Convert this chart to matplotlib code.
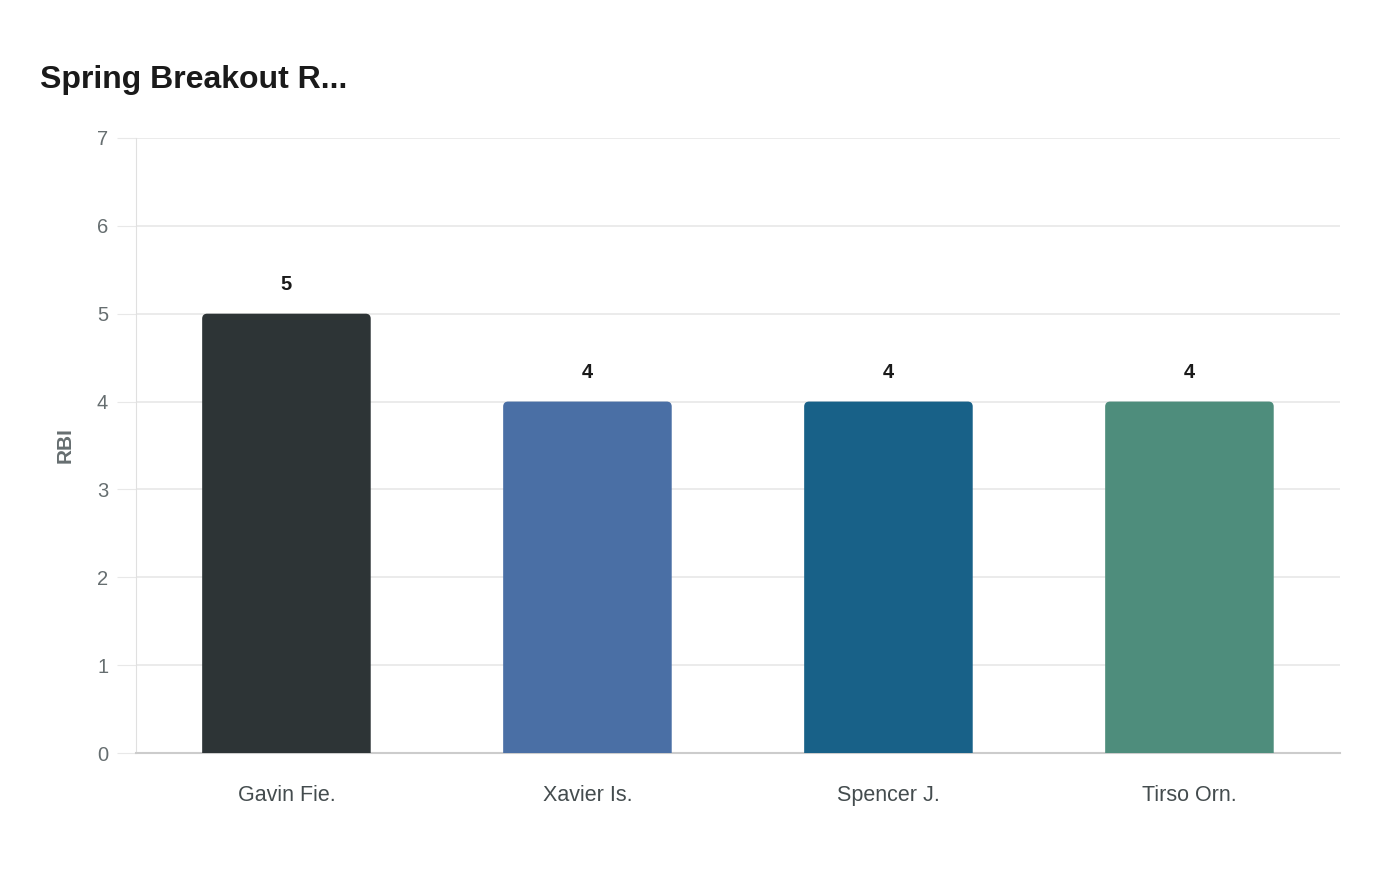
import numpy as np
import matplotlib.pyplot as plt
from matplotlib.path import Path
from matplotlib.patches import PathPatch

plt.rcParams['font.family'] = ['Liberation Sans', 'DejaVu Sans']

players = ['Gavin Fie.', 'Xavier Is.', 'Spencer J.', 'Tirso Orn.']
rbi = [5, 4, 4, 4]
colors = ['#2d3436', '#4a6fa5', '#186188', '#4e8d7c']

fig = plt.figure(figsize=(14, 8.8), dpi=100)
ax = fig.add_axes([0.0971, 0.1443, 0.8600, 0.6989])
ax.set_xlim(-0.5, len(players) - 0.5)
ax.set_ylim(0, 7)

# bars with slightly rounded top corners
bar_w = 0.56
x = np.arange(len(players))
bbox = ax.get_window_extent()
rx = 5 * (len(players)) / bbox.width
ry = 5 * 7 / bbox.height
for xi, v, c in zip(x, rbi, colors):
    l, r = xi - bar_w / 2, xi + bar_w / 2
    verts = [(l, 0), (l, v - ry), (l, v), (l + rx, v), (r - rx, v), (r, v),
             (r, v - ry), (r, 0), (l, 0)]
    codes = [Path.MOVETO, Path.LINETO, Path.CURVE3, Path.CURVE3, Path.LINETO,
             Path.CURVE3, Path.CURVE3, Path.LINETO, Path.CLOSEPOLY]
    ax.add_patch(PathPatch(Path(verts, codes), facecolor=c, edgecolor='none', zorder=3))
    ax.text(xi, v + 0.22, str(v), ha='center', va='bottom', fontsize=14.5,
            fontweight='bold', color='#1a1a1a')

ax.set_xticks(x)
ax.set_xticklabels(players, fontsize=15.5, color='#444c4e')
ax.set_yticks(range(0, 8))
ax.tick_params(axis='y', labelsize=14.5, labelcolor='#666e70', length=14, color='#e8e8e8', pad=6)
ax.tick_params(axis='x', length=0, pad=23)
ax.grid(axis='y', color='#e8e8e8', linewidth=1.2, zorder=0)
ax.set_axisbelow(True)
for s in ['top', 'right']:
    ax.spines[s].set_visible(False)
ax.spines['left'].set_color('#e0e0e0')
ax.spines['bottom'].set_color('#cccccc')
ax.spines['bottom'].set_linewidth(1.5)

ax.set_ylabel('RBI', fontsize=15, fontweight='bold', color='#666e70', labelpad=16)

fig.text(40 / 1400, 1 - 80 / 880, 'Spring Breakout R...', fontsize=23, fontweight='bold',
         color='#1a1a1a', ha='left', va='center')

fig.savefig('out.png', dpi=100)
